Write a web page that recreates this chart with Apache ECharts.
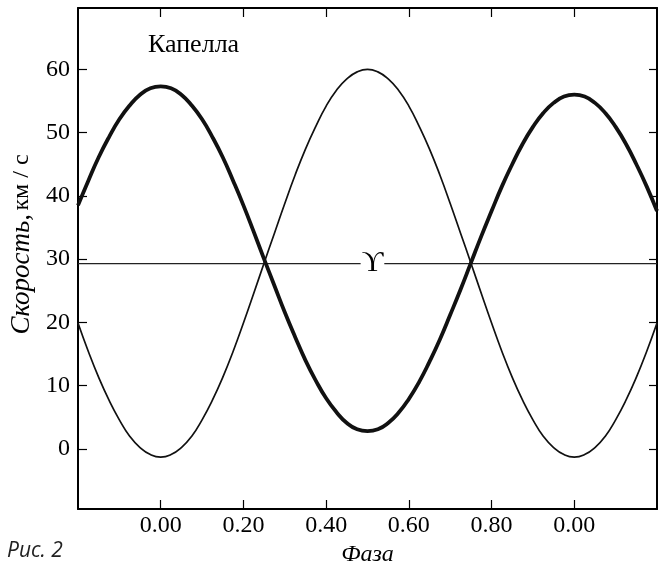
<!DOCTYPE html>
<html>
<head>
<meta charset="utf-8">
<script src="https://cdn.jsdelivr.net/npm/echarts@6/dist/echarts.min.js"></script>
<style>
	html, body { margin: 0; padding: 0; background: #fff; }
	#main { width: 659px; height: 567px; }
</style>
</head>
<body>
<div id="main"></div>
<script>
// фаза (от -0.2 до 1.2, шаг 0.025)
var phase = [-0.200, -0.175, -0.150, -0.125, -0.100, -0.075, -0.050, -0.025,
	0.000, 0.025, 0.050, 0.075, 0.100, 0.125, 0.150, 0.175,
	0.200, 0.225, 0.250, 0.275, 0.300, 0.325, 0.350, 0.375,
	0.400, 0.425, 0.450, 0.475, 0.500, 0.525, 0.550, 0.575,
	0.600, 0.625, 0.650, 0.675, 0.700, 0.725, 0.750, 0.775,
	0.800, 0.825, 0.850, 0.875, 0.900, 0.925, 0.950, 0.975,
	1.000, 1.025, 1.050, 1.075, 1.100, 1.125, 1.150, 1.175, 1.200];
// главная компонента (жирная линия), км/с
var velA = [38.5, 42.4, 46.1, 49.3, 52.1, 54.3, 56.0, 57.0,
	57.3, 57.0, 56.0, 54.3, 52.1, 49.3, 46.1, 42.4,
	38.5, 34.3, 30.0, 25.8, 21.6, 17.7, 14.0, 10.8,
	8.0, 5.8, 4.1, 3.1, 2.8, 3.1, 4.1, 5.7,
	7.9, 10.6, 13.8, 17.3, 21.2, 25.2, 29.4, 33.6,
	37.6, 41.5, 45.0, 48.2, 50.9, 53.1, 54.7, 55.7,
	56.0, 55.7, 54.7, 53.1, 50.9, 48.2, 45.0, 41.5, 37.6];
// вторая компонента (тонкая линия), км/с
var velB = [19.9, 15.4, 11.3, 7.7, 4.6, 2.0, 0.2, -0.9,
	-1.3, -0.9, 0.2, 2.0, 4.6, 7.7, 11.3, 15.4,
	19.9, 24.6, 29.4, 34.1, 38.8, 43.3, 47.4, 51.0,
	54.2, 56.7, 58.5, 59.6, 60.0, 59.6, 58.5, 56.7,
	54.2, 51.0, 47.4, 43.3, 38.8, 34.1, 29.4, 24.6,
	19.9, 15.4, 11.3, 7.7, 4.6, 2.0, 0.2, -0.9,
	-1.3, -0.9, 0.2, 2.0, 4.6, 7.7, 11.3, 15.4, 19.9];
// гамма-скорость
var gammaVel = 29.3;
var xTicks = [0, 0.2, 0.4, 0.6, 0.8, 1.0];
var yTicks = [0, 10, 20, 30, 40, 50, 60];

var serif = '"Liberation Serif", "DejaVu Serif", serif';

function pairs(xs, ys) {
	var out = [];
	for (var i = 0; i < xs.length; i++) out.push([xs[i], ys[i]]);
	return out;
}

var chart = echarts.init(document.getElementById('main'));

var axisLine = { show: true, onZero: false, lineStyle: { color: '#000', width: 2 } };

option = {
	animation: false,
	backgroundColor: '#fff',
	grid: { left: 78, right: 2, top: 8, bottom: 58, containLabel: false, outerBoundsMode: 'none' },
	xAxis: [ {
		type: 'value',
		min: -0.2,
		max: 1.2,
		position: 'bottom',
		axisLine: axisLine,
		axisTick: { inside: true, length: 9, customValues: xTicks, lineStyle: { color: '#000', width: 1.2 } },
		axisLabel: {
			customValues: xTicks,
			margin: 5,
			color: '#000',
			fontFamily: serif,
			fontSize: 24,
			formatter: function(v) {
				var p = Math.round(v * 100) / 100;
				if (p >= 1) p -= 1;
				return p.toFixed(2);
			}
		},
		splitLine: { show: false },
		name: 'Фаза',
		nameLocation: 'middle',
		nameGap: 32,
		nameTextStyle: { fontFamily: serif, fontStyle: 'italic', fontSize: 24, color: '#000' }
	}, {
		type: 'value',
		min: -0.2,
		max: 1.2,
		position: 'top',
		axisLine: axisLine,
		axisTick: { inside: true, length: 9, customValues: xTicks, lineStyle: { color: '#000', width: 1.2 } },
		axisLabel: { show: false },
		splitLine: { show: false }
	} ],
	yAxis: [ {
		type: 'value',
		min: -9.5,
		max: 69.7,
		position: 'left',
		axisLine: axisLine,
		axisTick: { inside: true, length: 9, customValues: yTicks, lineStyle: { color: '#000', width: 1.2 } },
		axisLabel: { customValues: yTicks, margin: 8, color: '#000', fontFamily: serif, fontSize: 24 },
		splitLine: { show: false },
		name: '{i|Скорость,} {r|км / с}',
		nameLocation: 'middle',
		nameGap: 43,
		nameTextStyle: {
			color: '#000',
			padding: [0, 0, 0, 28],
			rich: {
				i: { fontFamily: serif, fontStyle: 'italic', fontSize: 27, color: '#000' },
				r: { fontFamily: serif, fontSize: 24, color: '#000' }
			}
		}
	}, {
		type: 'value',
		min: -9.5,
		max: 69.7,
		position: 'right',
		axisLine: axisLine,
		axisTick: { inside: true, length: 8, customValues: yTicks, lineStyle: { color: '#000', width: 1.2 } },
		axisLabel: { show: false },
		splitLine: { show: false }
	} ],
	graphic: [ {
		type: 'text',
		left: 148,
		top: 32,
		style: { text: 'Капелла', font: '26px ' + serif, fill: '#000' }
	}, {
		type: 'text',
		left: 7,
		top: 541,
		style: { text: 'Рис. 2', font: 'italic 21px "Open Sans", "Noto Sans", sans-serif', fill: '#222' }
	} ],
	series : [ {
		name: 'gamma',
		type: 'line',
		symbol: 'none',
		silent: true,
		data: [[-0.2, gammaVel], [1.2, gammaVel]],
		lineStyle: { color: '#222', width: 1.2 },
		markPoint: {
			symbol: 'rect',
			symbolSize: 0,
			data: [ { coord: [0.512, gammaVel] } ],
			label: {
				show: true,
				position: 'inside',
				formatter: 'ϒ',
				fontFamily: serif,
				fontSize: 30,
				color: '#000',
				backgroundColor: '#fff',
				padding: [0, 1, 0, 1],
				lineHeight: 28
			}
		}
	}, {
		name: 'B',
		type: 'line',
		smooth: true,
		symbol: 'none',
		data: pairs(phase, velB),
		lineStyle: { color: '#111', width: 1.7 }
	}, {
		name: 'A',
		type: 'line',
		smooth: true,
		symbol: 'none',
		data: pairs(phase, velA),
		lineStyle: { color: '#111', width: 3.8 }
	} ]
};

chart.setOption(option);
</script>
</body>
</html>
